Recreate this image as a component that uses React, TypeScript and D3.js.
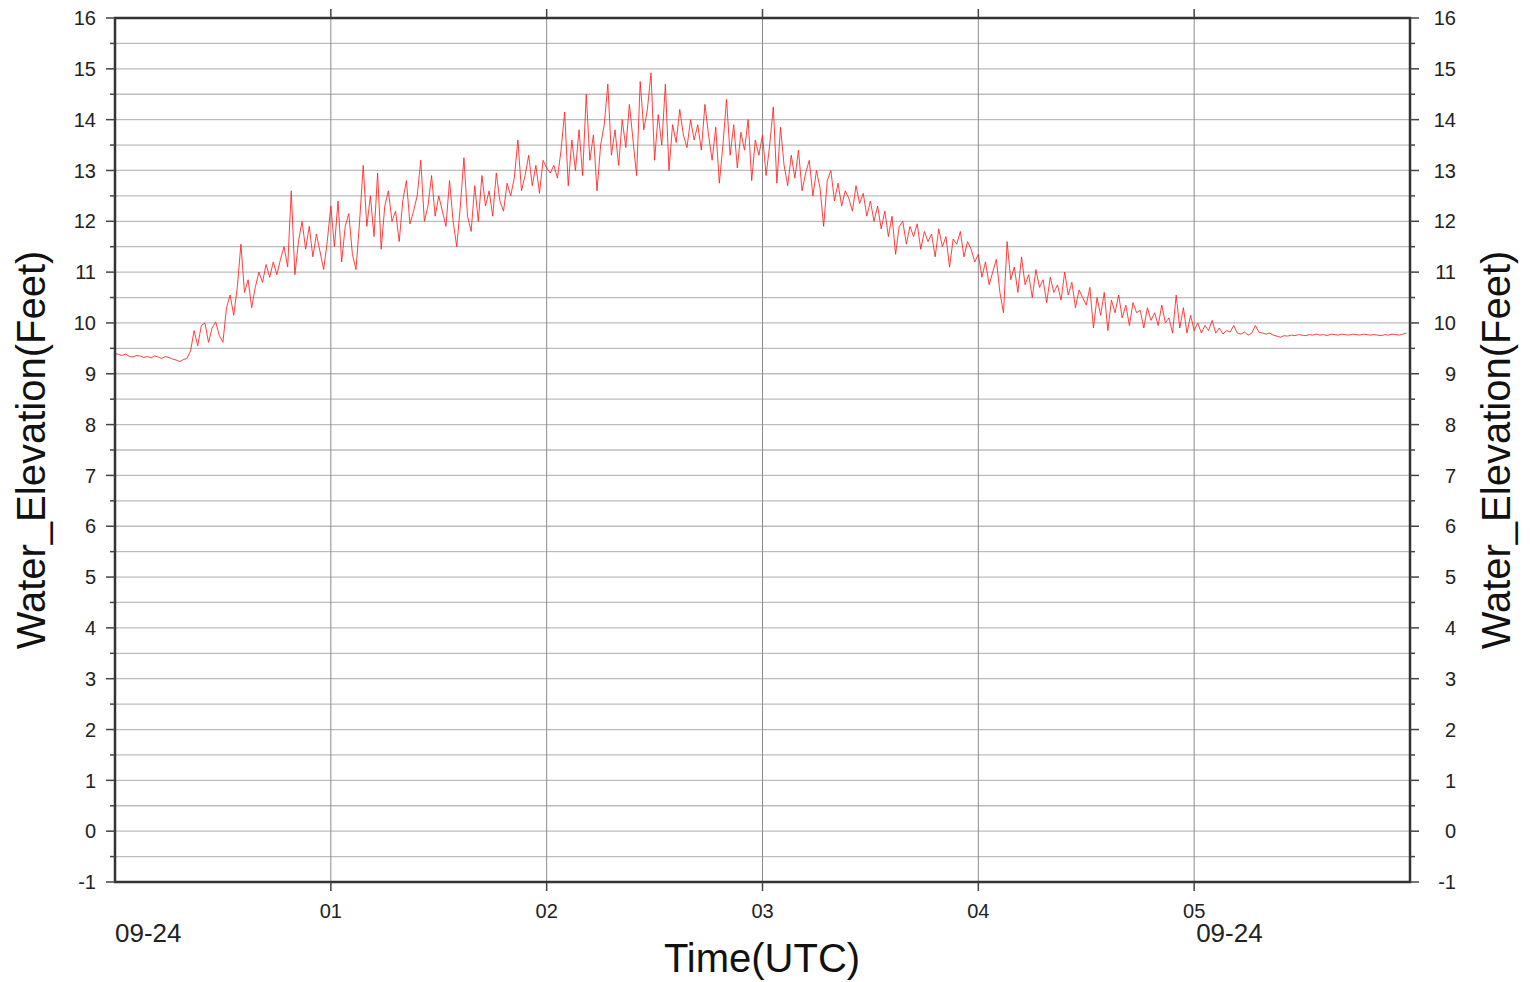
import React from "react";
import * as d3 from "d3";

// Water elevation (feet), one sample per minute starting 09-24 00:00 UTC
const hour0Values = [
  9.40, 9.38, 9.36, 9.39, 9.34, 9.33, 9.36, 9.35, 9.32, 9.34,
  9.31, 9.35, 9.33, 9.30, 9.34, 9.32, 9.29, 9.27, 9.24, 9.28,
  9.30, 9.45, 9.85, 9.55, 9.95, 10.0, 9.62, 9.9, 10.02, 9.75,
  9.62, 10.3, 10.55, 10.15, 10.7, 11.55, 10.6, 10.85, 10.3, 10.7,
  11.0, 10.8, 11.15, 10.9, 11.2, 10.95, 11.25, 11.5, 11.1, 12.6,
  10.95, 11.6, 12.0, 11.45, 11.9, 11.3, 11.75, 11.4, 11.05, 11.6,
];
const hour1Values = [
  12.3, 11.5, 12.4, 11.2, 11.9, 12.15, 11.35, 11.05, 12.0, 13.1,
  11.9, 12.5, 11.7, 12.95, 11.45, 12.3, 12.6, 12.0, 12.2, 11.6,
  12.4, 12.8, 11.95, 12.2, 12.5, 13.2, 12.0, 12.3, 12.9, 12.1,
  12.5, 12.2, 11.9, 12.8, 12.0, 11.5, 12.3, 13.25, 12.1, 11.8,
  12.7, 12.0, 12.9, 12.3, 12.6, 12.1, 12.95, 12.4, 12.2, 12.75,
  12.5, 12.85, 13.6, 12.6, 12.9, 13.3, 12.7, 13.1, 12.55, 13.2,
];
const hour2Values = [
  13.05, 12.95, 13.1, 12.85, 13.4, 14.15, 12.7, 13.6, 13.0, 13.8,
  12.9, 14.5, 13.2, 13.7, 12.6, 13.5, 13.9, 14.7, 13.3, 13.8,
  13.1, 14.0, 13.45, 14.3, 13.6, 12.9, 14.75, 13.8, 14.2, 14.92,
  13.2, 14.1, 13.5, 14.7, 13.0, 13.9, 13.55, 14.2, 13.7, 13.45,
  14.0, 13.6, 13.9, 13.4, 14.3, 13.7, 13.2, 13.85, 12.75, 13.5,
  14.4, 13.3, 13.9, 13.05, 13.75, 13.4, 14.0, 12.8, 13.6, 13.3,
];
const hour3Values = [
  13.7, 12.9, 13.5, 14.25, 12.75, 13.85, 13.1, 12.7, 13.3, 12.85,
  13.4, 12.6, 12.95, 13.2, 12.5, 13.0, 12.65, 11.9, 12.8, 13.0,
  12.4, 12.75, 12.3, 12.6, 12.45, 12.2, 12.7, 12.35, 12.55, 12.1,
  12.4, 12.0, 12.3, 11.85, 12.2, 11.7, 12.1, 11.35, 11.9, 12.0,
  11.55, 11.9, 11.7, 11.95, 11.45, 11.8, 11.6, 11.75, 11.3, 11.85,
  11.5, 11.7, 11.1, 11.65, 11.55, 11.8, 11.3, 11.6, 11.45, 11.2,
];
const hour4Values = [
  11.35, 10.9, 11.2, 10.75, 11.0, 11.25, 10.6, 10.2, 11.6, 10.85,
  11.1, 10.6, 11.3, 10.75, 10.95, 10.5, 11.05, 10.7, 10.85, 10.4,
  10.9, 10.6, 10.75, 10.45, 11.0, 10.55, 10.8, 10.3, 10.65, 10.5,
  10.35, 10.7, 9.9, 10.5, 10.15, 10.6, 9.85, 10.45, 10.2, 10.55,
  10.1, 10.35, 9.95, 10.4, 10.2, 10.25, 9.9, 10.3, 10.05, 10.2,
  9.95, 10.35, 10.0, 10.1, 9.8, 10.55, 9.9, 10.3, 9.8, 10.15,
];
const hour5Values = [
  9.85, 10.0, 9.8, 9.95, 9.85, 10.05, 9.8, 9.9, 9.78, 9.85,
  9.82, 9.95, 9.8, 9.78, 9.82, 9.76, 9.8, 9.95, 9.82, 9.8,
  9.78, 9.8, 9.76, 9.74, 9.72, 9.75, 9.74, 9.76, 9.75, 9.77,
  9.76, 9.75, 9.77, 9.76, 9.78, 9.76, 9.77, 9.75, 9.78, 9.77,
  9.76, 9.78, 9.77, 9.76, 9.78, 9.77, 9.76, 9.78, 9.77, 9.76,
  9.77, 9.76, 9.75, 9.77, 9.76, 9.78, 9.77, 9.76, 9.78, 9.80,
];

const hourTickLabels = ["01", "02", "03", "04", "05"];
const hourTickValues = [1, 2, 3, 4, 5];
const dateLabels = ["09-24", "09-24"];
const yTicks = d3.range(-1, 17, 1);
const yMinorTicks = d3.range(-1, 16.01, 0.5);
const minutesPerSample = 1;

const W = 1530;
const H = 982;
const L = 115, R = 1410, T = 18, B = 882;
const FONT = "'Liberation Sans', Arial, Helvetica, sans-serif";

export default function App() {
  const values = [...hour0Values, ...hour1Values, ...hour2Values, ...hour3Values, ...hour4Values, ...hour5Values];
  const data = values.map((v, i) => ({ t: (i * minutesPerSample) / 60, v }));
  const x = d3.scaleLinear().domain([0, 6]).range([L, R]);
  const y = d3.scaleLinear().domain([-1, 16]).range([B, T]);
  const line = d3.line<{ t: number; v: number }>().x((d) => x(d.t)).y((d) => y(d.v));

  return (
    <svg width={W} height={H} style={{ position: "absolute", left: 0, top: 0, background: "#fff" }} fontFamily={FONT}>
      <rect x={0} y={0} width={W} height={H} fill="#fff" />
      {/* horizontal grid */}
      {yMinorTicks.map((t) => (
        <line key={"hg" + t} x1={L} x2={R} y1={y(t)} y2={y(t)} stroke="#bcbcbc" strokeWidth={1.3} />
      ))}
      {/* vertical grid */}
      {hourTickValues.map((h) => (
        <line key={"vg" + h} x1={x(h)} x2={x(h)} y1={T} y2={B} stroke="#8c8c8c" strokeWidth={1} />
      ))}
      {/* data */}
      <path d={line(data) || ""} fill="none" stroke="#ff2020" strokeWidth={1} strokeOpacity={0.85} />
      {/* frame */}
      <rect x={L} y={T} width={R - L} height={B - T} fill="none" stroke="#333" strokeWidth={2.5} />
      {/* y ticks */}
      {yMinorTicks.map((t) => {
        const major = Number.isInteger(t);
        const len = major ? 9 : 5;
        return (
          <g key={"yt" + t}>
            <line x1={L - len} x2={L} y1={y(t)} y2={y(t)} stroke="#444" strokeWidth={1.5} />
            <line x1={R} x2={R + len} y1={y(t)} y2={y(t)} stroke="#444" strokeWidth={1.5} />
          </g>
        );
      })}
      {yTicks.map((t) => (
        <g key={"yl" + t} fontSize={20} fill="#222">
          <text x={96} y={y(t)} dy="0.36em" textAnchor="end">{t}</text>
          <text x={1456} y={y(t)} dy="0.36em" textAnchor="end">{t}</text>
        </g>
      ))}
      {/* x ticks */}
      {hourTickValues.map((h, i) => (
        <g key={"xt" + h}>
          <line x1={x(h)} x2={x(h)} y1={B} y2={B + 9} stroke="#444" strokeWidth={1.5} />
          <line x1={x(h)} x2={x(h)} y1={T - 9} y2={T} stroke="#444" strokeWidth={1.5} />
          <text x={x(h)} y={918} textAnchor="middle" fontSize={20} fill="#222">{hourTickLabels[i]}</text>
        </g>
      ))}
      <text x={x(0)} y={942} fontSize={26} fill="#222">{dateLabels[0]}</text>
      <text x={x(5) + 2} y={942} fontSize={26} fill="#222">{dateLabels[1]}</text>
      {/* titles */}
      <text x={762} y={972} textAnchor="middle" fontSize={40} fill="#111">Time(UTC)</text>
      <text transform="translate(45,450) rotate(-90)" textAnchor="middle" fontSize={40} fill="#111">Water_Elevation(Feet)</text>
      <text transform="translate(1510,450) rotate(-90)" textAnchor="middle" fontSize={40} fill="#111">Water_Elevation(Feet)</text>
    </svg>
  );
}
